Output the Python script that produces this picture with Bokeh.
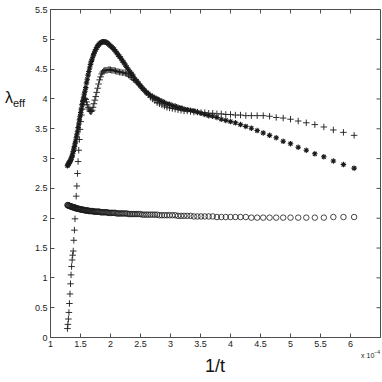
import math
from bokeh.plotting import figure
from bokeh.models import Range1d, FixedTicker, Div
from bokeh.layouts import row, column
from bokeh.embed import file_html
from bokeh.resources import INLINE

# time steps t (the x axis shows 1/t, in units of 1e-4)
t_steps = [
    7800, 7750, 7700, 7650, 7600, 7550, 7500, 7450, 7400, 7350,
    7300, 7250, 7200, 7150, 7100, 7050, 7000, 6950, 6900, 6850,
    6800, 6750, 6700, 6650, 6600, 6550, 6500, 6450, 6400, 6350,
    6300, 6250, 6200, 6150, 6100, 6050, 6000, 5950, 5900, 5850,
    5800, 5750, 5700, 5650, 5600, 5550, 5500, 5450, 5400, 5350,
    5300, 5250, 5200, 5150, 5100, 5050, 5000, 4950, 4900, 4850,
    4800, 4750, 4700, 4650, 4600, 4550, 4500, 4450, 4400, 4350,
    4300, 4250, 4200, 4150, 4100, 4050, 4000, 3950, 3900, 3850,
    3800, 3750, 3700, 3650, 3600, 3550, 3500, 3450, 3400, 3350,
    3300, 3250, 3200, 3150, 3100, 3050, 3000, 2950, 2900, 2850,
    2800, 2750, 2700, 2650, 2600, 2550, 2500, 2450, 2400, 2350,
    2300, 2250, 2200, 2150, 2100, 2050, 2000, 1950, 1900, 1850,
    1800, 1750, 1700, 1650,
]

lambda_star = [
    2.88, 2.89, 2.91, 2.92, 2.94, 2.95, 2.97, 2.99, 3.02, 3.04,
    3.08, 3.12, 3.16, 3.20, 3.25, 3.29, 3.35, 3.40, 3.45, 3.52,
    3.58, 3.65, 3.71, 3.77, 3.83, 3.90, 3.96, 4.02, 4.08, 4.13,
    4.19, 4.27, 4.33, 4.40, 4.46, 4.52, 4.58, 4.63, 4.67, 4.72,
    4.76, 4.80, 4.83, 4.86, 4.89, 4.91, 4.93, 4.94, 4.95, 4.96,
    4.96, 4.96, 4.95, 4.94, 4.93, 4.91, 4.89, 4.87, 4.85, 4.83,
    4.80, 4.77, 4.74, 4.71, 4.68, 4.64, 4.61, 4.57, 4.53, 4.49,
    4.45, 4.42, 4.38, 4.33, 4.30, 4.26, 4.22, 4.18, 4.15, 4.11,
    4.09, 4.06, 4.04, 4.02, 4.00, 3.98, 3.96, 3.94, 3.92, 3.91,
    3.89, 3.88, 3.86, 3.85, 3.83, 3.82, 3.81, 3.80, 3.78, 3.76,
    3.74, 3.72, 3.71, 3.69, 3.66, 3.64, 3.62, 3.60, 3.57, 3.54,
    3.51, 3.47, 3.43, 3.39, 3.35, 3.29, 3.25, 3.19, 3.14, 3.08,
    3.03, 2.96, 2.90, 2.84,
]

lambda_plus = [
    0.15, 0.22, 0.31, 0.42, 0.57, 0.73, 0.90, 1.05, 1.19, 1.30,
    1.38, 1.45, 1.63, 1.80, 1.99, 2.18, 2.37, 2.54, 2.75, 2.95,
    3.14, 3.32, 3.49, 3.62, 3.73, 3.83, 3.91, 3.97, 4.00, 4.01,
    3.99, 3.95, 3.90, 3.86, 3.83, 3.80, 3.79, 3.79, 3.81, 3.86,
    3.92, 3.98, 4.04, 4.11, 4.18, 4.25, 4.32, 4.37, 4.42, 4.45,
    4.47, 4.48, 4.48, 4.48, 4.49, 4.49, 4.49, 4.48, 4.48, 4.48,
    4.47, 4.46, 4.46, 4.45, 4.45, 4.44, 4.44, 4.43, 4.42, 4.40,
    4.38, 4.36, 4.33, 4.31, 4.28, 4.25, 4.22, 4.18, 4.14, 4.11,
    4.07, 4.03, 4.00, 3.97, 3.94, 3.92, 3.90, 3.88, 3.86, 3.85,
    3.84, 3.83, 3.82, 3.81, 3.80, 3.80, 3.79, 3.78, 3.78, 3.77,
    3.77, 3.76, 3.76, 3.75, 3.75, 3.74, 3.74, 3.73, 3.73, 3.72,
    3.72, 3.72, 3.72, 3.71, 3.69, 3.68, 3.66, 3.63, 3.60, 3.57,
    3.53, 3.48, 3.44, 3.39,
]

lambda_circle = [
    2.22, 2.22, 2.21, 2.21, 2.21, 2.20, 2.20, 2.20, 2.19, 2.19,
    2.19, 2.18, 2.18, 2.18, 2.17, 2.17, 2.17, 2.16, 2.16, 2.16,
    2.16, 2.15, 2.15, 2.15, 2.15, 2.14, 2.14, 2.14, 2.14, 2.13,
    2.13, 2.13, 2.13, 2.13, 2.12, 2.12, 2.12, 2.12, 2.12, 2.12,
    2.11, 2.11, 2.11, 2.11, 2.11, 2.11, 2.11, 2.10, 2.10, 2.10,
    2.10, 2.10, 2.10, 2.10, 2.09, 2.09, 2.09, 2.09, 2.09, 2.09,
    2.09, 2.08, 2.08, 2.08, 2.08, 2.08, 2.08, 2.08, 2.08, 2.07,
    2.07, 2.07, 2.07, 2.07, 2.07, 2.07, 2.07, 2.06, 2.06, 2.06,
    2.06, 2.06, 2.06, 2.06, 2.06, 2.05, 2.05, 2.05, 2.05, 2.05,
    2.05, 2.05, 2.04, 2.04, 2.04, 2.04, 2.04, 2.03, 2.03, 2.03,
    2.03, 2.03, 2.03, 2.02, 2.02, 2.02, 2.02, 2.02, 2.02, 2.02,
    2.01, 2.01, 2.01, 2.01, 2.01, 2.01, 2.01, 2.01, 2.01, 2.01,
    2.01, 2.02, 2.02, 2.02,
]

x_ticks = [1, 1.5, 2, 2.5, 3, 3.5, 4, 4.5, 5, 5.5, 6]
y_ticks = [0, 0.5, 1, 1.5, 2, 2.5, 3, 3.5, 4, 4.5, 5, 5.5]
X_MIN, X_MAX = 1, 6.5
Y_MIN, Y_MAX = 0, 5.5

x_label = "1/t"
y_label_main, y_label_sub = "λ", "eff"
x_exponent = "−4"

inv_t = [1e4 / t for t in t_steps]  # 1/t expressed in units of 1e-4

FONT = "Liberation Sans"
INK = "#1a1a1a"
AXIS = "#4d4d4d"

p = figure(width=351, height=352, x_range=Range1d(X_MIN, X_MAX), y_range=Range1d(Y_MIN, Y_MAX),
           output_backend="svg", toolbar_location=None, margin=0,
           min_border_left=20, min_border_right=1, min_border_top=9, min_border_bottom=15)
p.xgrid.visible = False
p.ygrid.visible = False
p.outline_line_color = AXIS
p.outline_line_width = 1
p.background_fill_color = "white"
p.border_fill_color = "white"

for ax, ticks in ((p.xaxis[0], x_ticks), (p.yaxis[0], y_ticks)):
    ax.ticker = FixedTicker(ticks=ticks)
    ax.minor_tick_line_color = None
    ax.major_tick_in = 4
    ax.major_tick_out = 0
    ax.axis_line_color = AXIS
    ax.major_tick_line_color = AXIS
    ax.major_label_text_font = FONT
    ax.major_label_text_font_size = "9px"
    ax.major_label_text_color = "#222222"
    ax.major_label_standoff = 3

p.xaxis[0].major_label_overrides = {1: "1", 2: "2", 3: "3", 4: "4", 5: "5", 6: "6"}
p.yaxis[0].major_label_overrides = {0: "0", 1: "1", 2: "2", 3: "3", 4: "4", 5: "5"}

# mirrored inward ticks on the top and right edges of the box
p.scatter(x_ticks, [Y_MAX] * len(x_ticks), marker="dash", size=8, angle=math.pi / 2,
          line_color=AXIS, line_width=1)
p.scatter([X_MAX] * len(y_ticks), y_ticks, marker="dash", size=8,
          line_color=AXIS, line_width=1)

p.scatter(inv_t, lambda_circle, marker="circle", size=5.5, fill_color=None,
          line_color=INK, line_width=0.8)
p.scatter(inv_t, lambda_plus, marker="cross", size=6.5, line_color=INK, line_width=0.9)
p.scatter(inv_t, lambda_star, marker="asterisk", size=5.5, line_color=INK, line_width=1.1)

# MATLAB-style horizontal y label, to the left of the axes
left_div = Div(width=30, height=352, margin=0, text=(
    f'<div style="padding-top:89px;padding-left:5px;font-family:\'{FONT}\',sans-serif;'
    f'color:#111;white-space:nowrap;line-height:18px">'
    f'<span style="font-size:16px">{y_label_main}</span>'
    f'<span style="font-size:11px;position:relative;top:4px">{y_label_sub}</span></div>'))

# x label and the axis exponent note below the axes
bottom_div = Div(width=381, height=29, margin=0, text=(
    f'<div style="position:relative;width:381px;height:29px;'
    f'font-family:\'{FONT}\',sans-serif;color:#111;white-space:nowrap">'
    f'<span style="position:absolute;right:1px;top:-1px;font-size:7px;line-height:9px;'
    f'color:#222">x 10<span style="font-size:5px;position:relative;top:-4px">{x_exponent}</span></span>'
    f'<span style="position:absolute;left:215px;top:4px;transform:translateX(-50%);'
    f'font-size:18px;line-height:20px">{x_label}</span></div>'))

layout = column(row(left_div, p, spacing=0, margin=0), bottom_div, spacing=0, margin=0)

open("out.html", "w").write(file_html(layout, INLINE))
